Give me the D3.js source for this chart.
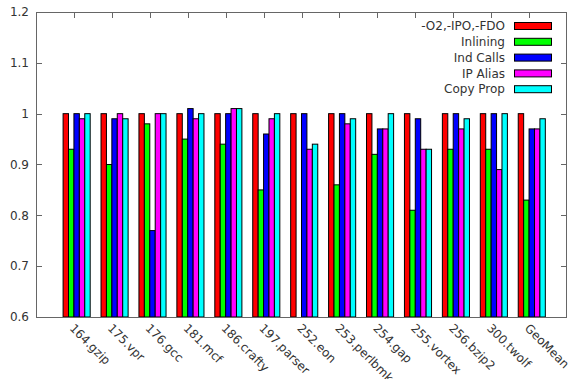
<!DOCTYPE html>
<html>
<head>
<meta charset="utf-8">
<script src="https://cdn.jsdelivr.net/npm/d3@7"></script>
<style>
  body { margin: 0; background: #fff; }
  text { font-family: "DejaVu Sans", sans-serif; font-size: 12px; fill: #333; }
</style>
</head>
<body>
<script>
const width = 569;
const height = 379;

const benchmarks = ["164.gzip", "175.vpr", "176.gcc", "181.mcf", "186.crafty", "197.parser",
  "252.eon", "253.perlbmk", "254.gap", "255.vortex", "256.bzip2", "300.twolf", "GeoMean"];
const seriesNames = ["-O2,-IPO,-FDO", "Inlining", "Ind Calls", "IP Alias", "Copy Prop"];
const seriesColors = ["#ff0000", "#00ff00", "#0000ff", "#ff00ff", "#00ffff"];

const baseline  = [1.00, 1.00, 1.00, 1.00, 1.00, 1.00, 1.00, 1.00, 1.00, 1.00, 1.00, 1.00, 1.00];
const inlining  = [0.93, 0.90, 0.98, 0.95, 0.94, 0.85, null, 0.86, 0.92, 0.81, 0.93, 0.93, 0.83];
const indCalls  = [1.00, 0.99, 0.77, 1.01, 1.00, 0.96, 1.00, 1.00, 0.97, 0.99, 1.00, 1.00, 0.97];
const ipAlias   = [0.99, 1.00, 1.00, 0.99, 1.01, 0.99, 0.93, 0.98, 0.97, 0.93, 0.97, 0.89, 0.97];
const copyProp  = [1.00, 0.99, 1.00, 1.00, 1.01, 1.00, 0.94, 0.99, 1.00, 0.93, 0.99, 1.00, 0.99];
const series = [baseline, inlining, indCalls, ipAlias, copyProp];

const yTicks = [0.6, 0.7, 0.8, 0.9, 1, 1.1, 1.2];

const margin = {top: 12, right: 2, bottom: 62, left: 36};
const plotW = width - margin.left - margin.right;
const plotH = height - margin.top - margin.bottom;

const x = d3.scaleLinear().domain([-1, benchmarks.length]).range([margin.left, margin.left + plotW]);
const y = d3.scaleLinear().domain([0.6, 1.2]).range([margin.top + plotH, margin.top]);
const unit = (x(1) - x(0)) / 7;

const svg = d3.select("body").append("svg")
    .attr("width", width)
    .attr("height", height);

const tickLen = 6;
const axisColor = "#666";

// ticks on all four sides, drawn before the bars
const ticks = svg.append("g").attr("stroke", axisColor).attr("stroke-width", 1);
yTicks.forEach(v => {
  ticks.append("line")
    .attr("x1", x.range()[0]).attr("x2", x.range()[0] + tickLen)
    .attr("y1", Math.round(y(v)) + 0.5).attr("y2", Math.round(y(v)) + 0.5);
  ticks.append("line")
    .attr("x1", x.range()[1]).attr("x2", x.range()[1] - tickLen)
    .attr("y1", Math.round(y(v)) + 0.5).attr("y2", Math.round(y(v)) + 0.5);
});
benchmarks.forEach((b, i) => {
  const cx = Math.round(x(i)) + 0.5;
  ticks.append("line").attr("x1", cx).attr("x2", cx)
    .attr("y1", y.range()[1]).attr("y2", y.range()[1] + tickLen);
  ticks.append("line").attr("x1", cx).attr("x2", cx)
    .attr("y1", y.range()[0]).attr("y2", y.range()[0] - tickLen);
});

// bars
series.forEach((vals, j) => {
  svg.append("g")
    .selectAll("rect")
    .data(vals.map((v, i) => ({v, i})).filter(d => d.v != null))
    .join("rect")
      .attr("x", d => x(d.i) + (j - 2) * unit)
      .attr("width", unit)
      .attr("y", d => y(d.v))
      .attr("height", d => y(0.6) - y(d.v))
      .attr("fill", seriesColors[j])
      .attr("stroke", "#000")
      .attr("stroke-width", 1);
});

// border
svg.append("rect")
    .attr("x", x.range()[0] + 0.5)
    .attr("y", y.range()[1] + 0.5)
    .attr("width", plotW - 1)
    .attr("height", plotH)
    .attr("fill", "none")
    .attr("stroke", axisColor);

// y labels
svg.append("g").selectAll("text")
  .data(yTicks)
  .join("text")
    .attr("x", x.range()[0] - 7)
    .attr("y", d => y(d))
    .attr("dy", "0.35em")
    .attr("text-anchor", "end")
    .text(d => d3.format("")(d));

// x labels, rotated
svg.append("g").selectAll("text")
  .data(benchmarks)
  .join("text")
    .attr("transform", (d, i) => `translate(${x(i) - 2},${y.range()[0] + 9}) rotate(45)`)
    .attr("dy", "0.35em")
    .text(d => d);

// legend
const legend = svg.append("g");
seriesNames.forEach((name, j) => {
  const ly = 26 + j * 15.8;
  legend.append("text")
    .attr("x", 505)
    .attr("y", ly)
    .attr("dy", "0.35em")
    .attr("text-anchor", "end")
    .text(name);
  legend.append("rect")
    .attr("x", 514.5)
    .attr("y", ly - 3.5)
    .attr("width", 37)
    .attr("height", 7)
    .attr("fill", seriesColors[j])
    .attr("stroke", "#000");
});
</script>
</body>
</html>
